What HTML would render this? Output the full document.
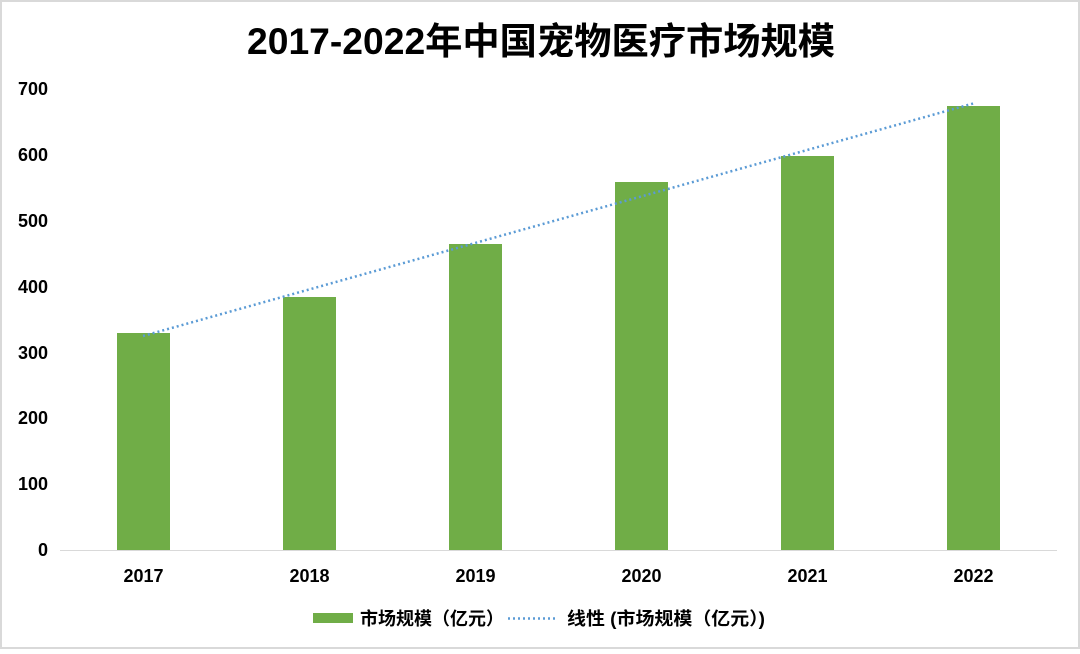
<!DOCTYPE html>
<html><head><meta charset="utf-8"><style>
html,body{margin:0;padding:0;background:#fff}
body{width:1080px;height:649px;overflow:hidden}
</style></head><body>
<svg width="1080" height="649" xmlns="http://www.w3.org/2000/svg" font-family="'Liberation Sans','Noto Sans CJK SC',sans-serif">
<rect x="1" y="1" width="1078" height="647" fill="#fff" stroke="#d9d9d9" stroke-width="2"/>
<text x="541" y="54" text-anchor="middle" font-size="37" font-weight="bold" fill="#000" textLength="588" lengthAdjust="spacingAndGlyphs">2017-2022年中国宠物医疗市场规模</text>
<g font-size="18" font-weight="bold" fill="#000" text-anchor="end">
<text x="48" y="556">0</text><text x="48" y="490">100</text><text x="48" y="424">200</text>
<text x="48" y="359">300</text><text x="48" y="293">400</text><text x="48" y="227">500</text>
<text x="48" y="161">600</text><text x="48" y="95">700</text>
</g>
<line x1="60" y1="550.5" x2="1057" y2="550.5" stroke="#d9d9d9" stroke-width="1"/>
<g fill="#70ad47">
<rect x="117" y="333" width="53" height="217"/>
<rect x="283" y="297" width="53" height="253"/>
<rect x="449" y="244" width="53" height="306"/>
<rect x="615" y="182" width="53" height="368"/>
<rect x="781" y="156" width="53" height="394"/>
<rect x="947" y="106" width="53" height="444"/>
</g>
<line x1="143" y1="336" x2="975" y2="103" stroke="#5b9bd5" stroke-width="2.5" stroke-dasharray="2,3"/>
<g font-size="18" font-weight="bold" fill="#000" text-anchor="middle">
<text x="143.5" y="582">2017</text><text x="309.5" y="582">2018</text><text x="475.5" y="582">2019</text>
<text x="641.5" y="582">2020</text><text x="807.5" y="582">2021</text><text x="973.5" y="582">2022</text>
</g>
<rect x="313" y="613" width="40" height="10" fill="#70ad47"/>
<text x="360" y="625" font-size="18" font-weight="bold">市场规模（亿元）</text>
<line x1="508" y1="618.5" x2="558" y2="618.5" stroke="#5b9bd5" stroke-width="2.5" stroke-dasharray="2,3"/>
<text x="567" y="625" font-size="18" font-weight="bold" textLength="198" lengthAdjust="spacingAndGlyphs">线性 (市场规模（亿元）)</text>
</svg>
</body></html>
